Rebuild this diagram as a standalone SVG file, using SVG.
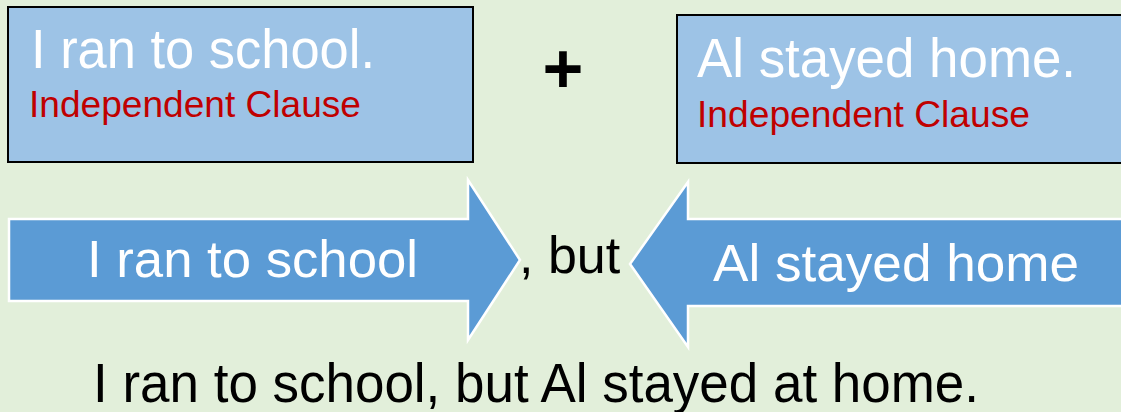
<svg xmlns="http://www.w3.org/2000/svg" width="1121" height="412" viewBox="0 0 1121 412">
  <style>
    .bg { fill: #E2EFDA; }
    .clause-box { fill: #9DC3E6; stroke: #000000; stroke-width: 2; }
    .big { font-family: "Liberation Sans", Arial, sans-serif; font-size: 56px; }
    .mid { font-family: "Liberation Sans", Arial, sans-serif; font-size: 52px; }
    .label { font-family: "Liberation Sans", Arial, sans-serif; font-size: 37px; fill: #C00000; }
    .white { fill: #FFFFFF; }
    .black { fill: #000000; }
    .arrow { fill: #5B9BD5; stroke: #FFFFFF; stroke-width: 2.5; stroke-linejoin: miter; }
  </style>

  <rect class="bg" x="0" y="0" width="1121" height="412"/>

  <!-- first clause -->
  <g id="clause-1">
    <rect class="clause-box" x="8" y="7" width="465" height="155"/>
    <text class="big white" x="31" y="68" textLength="344" lengthAdjust="spacingAndGlyphs">I ran to school.</text>
    <text class="label" x="29" y="117" textLength="332" lengthAdjust="spacingAndGlyphs">Independent Clause</text>
  </g>

  <!-- plus sign -->
  <g id="plus">
    <text class="black" x="563" y="93" font-family="Liberation Sans, Arial, sans-serif" font-size="70" font-weight="bold" text-anchor="middle">+</text>
  </g>

  <!-- second clause -->
  <g id="clause-2">
    <rect class="clause-box" x="677" y="15" width="460" height="148"/>
    <text class="big white" x="697" y="77" textLength="379" lengthAdjust="spacingAndGlyphs">Al stayed home.</text>
    <text class="label" x="697" y="127" textLength="333" lengthAdjust="spacingAndGlyphs">Independent Clause</text>
  </g>

  <!-- joining arrows -->
  <g id="connectors">
    <g id="arrow-right">
      <path class="arrow" d="M9,219 L468,219 L468,180 L520,260 L468,340 L468,301 L9,301 Z"/>
      <text class="mid white" x="87" y="277" textLength="331" lengthAdjust="spacingAndGlyphs">I ran to school</text>
    </g>
    <g id="arrow-left">
      <path class="arrow" d="M1130,219 L688,219 L688,182 L630,264 L688,347 L688,306 L1130,306 Z"/>
      <text class="mid white" x="713" y="281" textLength="366" lengthAdjust="spacingAndGlyphs">Al stayed home</text>
    </g>
  </g>

  <!-- conjunction -->
  <g id="conjunction">
    <text class="mid black" x="519" y="273">, but</text>
  </g>

  <!-- combined sentence -->
  <g id="sentence">
    <text class="big black" x="93" y="402" textLength="886" lengthAdjust="spacingAndGlyphs">I ran to school, but Al stayed at home.</text>
  </g>
</svg>
